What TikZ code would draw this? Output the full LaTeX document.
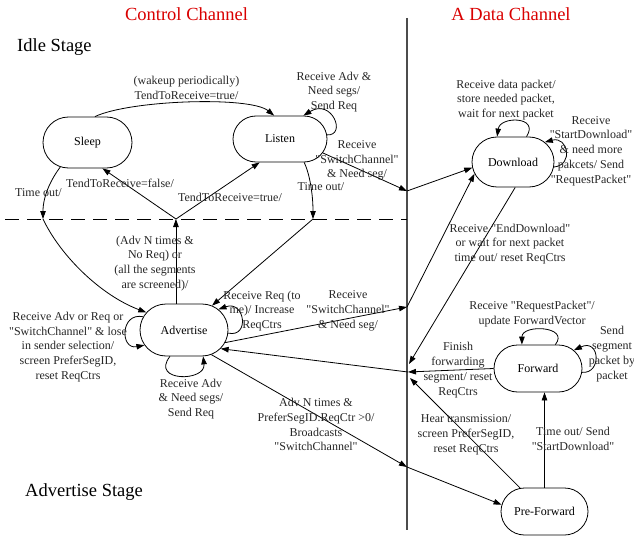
\documentclass[tikz,border=0pt]{standalone}
\usepackage{fontspec}
\setmainfont{Liberation Serif}[Ligatures=TeXOff]
\usetikzlibrary{arrows.meta,shapes.misc}
\begin{document}
\begin{tikzpicture}[x=1pt,y=-1pt,
  state/.style={draw, line width=0.8pt, rounded rectangle, inner sep=0pt, font=\fontsize{12}{14.8}\selectfont},
  lbl/.style={align=center, inner sep=0pt, font=\fontsize{12}{14.8}\selectfont, text=black!85},
  ttl/.style={inner sep=0pt, font=\fontsize{18.5}{22}\selectfont},
  arr/.style={line width=0.8pt, -{Triangle[length=8pt,width=5.5pt]}},
  ln/.style={line width=0.8pt}]
\useasboundingbox (0,0) rectangle (634,540);

% titles
\node[ttl, text=red!85!black] (tc) at (186.5,14) {Control Channel};
\node[ttl, text=red!85!black] (td) at (511,14) {A Data Channel};
\node[ttl, anchor=west] (tidle) at (17,47) {Idle Stage};
\node[ttl, anchor=west] (tadv) at (25,492) {Advertise Stage};

% separators
\coordinate (vTop) at (407,18);
\coordinate (vBot) at (407,530);
\coordinate (hL) at (5,219);
\coordinate (hR) at (407,219);
\draw[line width=1.3pt, black!70] (vTop) -- (vBot);
\draw[line width=1pt, dash pattern=on 14pt off 8pt] (hL) -- (hR);

% states
\node[state, minimum width=89pt, minimum height=51pt] (sleep) at (87.5,142.5) {Sleep};
\node[state, minimum width=94pt, minimum height=46pt] (listen) at (280,139) {Listen};
\node[state, minimum width=82pt, minimum height=50pt] (download) at (513,162) {Download};
\node[state, minimum width=88pt, minimum height=52pt] (adv) at (184,330) {Advertise};
\node[state, minimum width=88pt, minimum height=47pt] (fwd) at (538,368.5) {Forward};
\node[state, minimum width=87pt, minimum height=47pt] (pre) at (544.5,511.5) {Pre-Forward};

% junctions
\coordinate (jS) at (43,219);
\coordinate (jC) at (176,219);
\coordinate (jL) at (313,219);
\coordinate (jD1) at (407,191);
\coordinate (jD2) at (407,307);
\coordinate (jFa) at (409,364);
\coordinate (jF) at (408,372);
\coordinate (jFb) at (410,378);
\coordinate (jP) at (407,467);

% connectors
\draw[arr] (sleep.74) .. controls (130,100) and (250,96) .. (listen.104.6);
\draw[arr] (listen.5) .. controls (347,136) and (332,98) .. (listen.45);
\draw[arr] (sleep.222) .. controls (52,178) and (43,195) .. (jS);
\draw[arr] (jS) .. controls (60,255) and (100,295) .. (adv.155);
\draw[arr] (jC) -- (sleep.300);
\draw[arr] (jC) -- (listen.229);
\draw[arr] (adv.107) -- (adv.107 |- jC);
\draw[arr] (listen.316) .. controls (310,175) and (313,195) .. (jL);
\draw[arr] (jL) -- (adv.41.8);
\draw[arr] (listen.342) -- (jD1);
\draw[arr] (jD1) -- (download.188);
\draw[arr] (download.62.5) .. controls (540,116) and (500,116) .. (download.122.6);
\draw[arr] (download.353) .. controls (574,165) and (568,136) .. (download.32);
\draw[arr] (adv.343) -- (jD2);
\draw[arr] (jD2) -- (download.197);
\draw[arr] (download.275) -- (jFa);
\draw[arr] (fwd.west) -- (jF);
\draw[arr] (jF) -- (adv.333);
\draw[arr] (pre.136) -- (jFb);
\draw[arr] (adv.318) -- (jP);
\draw[arr] (jP) -- (pre.171.7);
\draw[arr] (pre.north) -- (pre.north |- fwd.south);
\draw[arr] (fwd.54) .. controls (570,326) and (522,324) .. (fwd.124);
\draw[arr] (fwd.355.5) .. controls (602,374) and (600,338) .. (fwd.27.7);
\draw[arr] (adv.162) .. controls (120,312) and (120,350) .. (adv.201);
\draw[arr] (adv.356) .. controls (250,338) and (245,300) .. (adv.31);
\draw[arr] (adv.242) .. controls (150,382) and (206,382) .. (adv.306);

% labels
\node[lbl] (l1) at (186.5,87.5) {(wakeup periodically)\\TendToReceive=true/};
\node[lbl] (l2) at (334,92) {Receive Adv \&\\Need segs/\\Send Req};
\node[lbl] (l3) at (120,183) {TendToReceive=false/};
\node[lbl] (l4) at (230,197) {TendToReceive=true/};
\node[lbl] (l5) at (38.5,193) {Time out/};
\node[lbl] (l6) at (321,187) {Time out/};
\node[lbl] (l7) at (357,160.5) {Receive\\"SwitchChannel"\\\& Need seg/};
\node[lbl] (l8) at (506,100) {Receive data packet/\\store needed packet,\\wait for next packet};
\node[lbl] (l9) at (591,151) {Receive\\"StartDownload"\\\& need more\\pakcets/ Send\\"RequestPacket"};
\node[lbl] (l10) at (155,263.5) {(Adv N times \&\\No Req) or\\(all the segments\\are screened)/};
\node[lbl] (l11) at (510,244) {Receive "EndDownload"\\or wait for next packet\\time out/ reset ReqCtrs};
\node[lbl] (l12) at (262,311) {Receive Req (to\\me)/ Increase\\ReqCtrs};
\node[lbl] (l13) at (348,311) {Receive\\"SwitchChannel"\\\& Need seg/};
\node[lbl] (l14) at (68,347) {Receive Adv or Req or\\"SwitchChannel" \& lose\\in sender selection/\\screen PreferSegID,\\reset ReqCtrs};
\node[lbl] (l15) at (191,399) {Receive Adv\\\& Need segs/\\Send Req};
\node[lbl] (l16) at (316,424.5) {Adv N times \&\\PreferSegID.ReqCtr >0/\\Broadcasts\\"SwitchChannel"};
\node[lbl] (l17) at (532,314) {Receive "RequestPacket"/\\update ForwardVector};
\node[lbl] (l18) at (612,354) {Send\\segment\\packet by\\packet};
\node[lbl] (l19) at (458,370) {Finish\\forwarding\\segment/ reset\\ReqCtrs};
\node[lbl] (l20) at (466,435) {Hear transmission/\\screen PreferSegID,\\reset ReqCtrs};
\node[lbl] (l21) at (573,438.5) {Time out/ Send\\"StartDownload"};
\end{tikzpicture}
\end{document}
